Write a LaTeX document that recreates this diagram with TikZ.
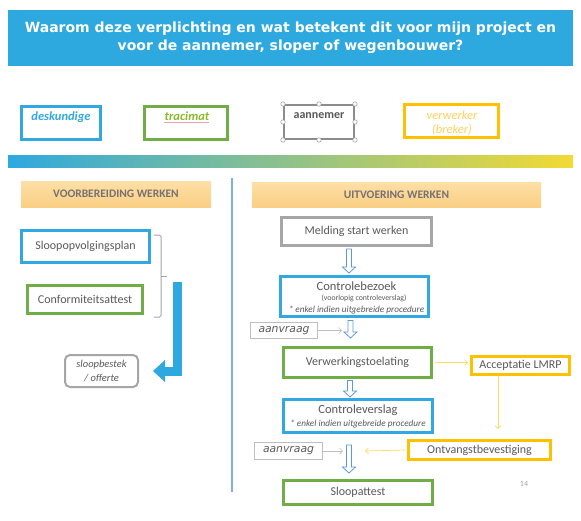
\documentclass[tikz,border=0pt]{standalone}
\usepackage{fontspec}
\setmainfont{Carlito}
\newfontfamily\titlefont{DejaVu Sans}
\usetikzlibrary{arrows.meta,calc}
\definecolor{tblue}{HTML}{2EA9DF}
\definecolor{bblue}{HTML}{32A8E2}
\definecolor{bgreen}{HTML}{70AD47}
\definecolor{tgreen}{HTML}{8DB92E}
\definecolor{bgray}{HTML}{A6A6A6}
\definecolor{dgray}{HTML}{8C8C8C}
\definecolor{lgray}{HTML}{BFBFBF}
\definecolor{borange}{HTML}{FFC000}
\definecolor{lorange}{HTML}{FFD15C}
\definecolor{yarrow}{HTML}{FFD966}
\definecolor{tgray}{HTML}{595959}
\definecolor{hdrtext}{HTML}{767171}
\definecolor{hdrtop}{HTML}{FDDFA6}
\definecolor{hdrbot}{HTML}{FACF84}
\definecolor{hblue}{HTML}{5B9BD5}
\definecolor{sepblue}{HTML}{7FAEE0}
\definecolor{gradgreen}{HTML}{8DBE2C}
\definecolor{gradyellow}{HTML}{F2DA34}
\definecolor{pinkline}{HTML}{F2A0A8}
\newcommand\hollowarrow[2]{\draw[hollow] let \p1=#1, \p2=#2 in
  (\x1-2.5pt,\y1) -- (\x1-2.5pt,\y2+6pt) -- (\x1-6.5pt,\y2+6pt) -- (\x1,\y2)
  -- (\x1+6.5pt,\y2+6pt) -- (\x1+2.5pt,\y2+6pt) -- (\x1+2.5pt,\y1) -- cycle;}
\begin{document}
\begin{tikzpicture}[x=1pt,y=-1pt,
  box/.style={draw, line width=3pt, inner sep=0pt, text=tgray, font=\fontsize{12}{14}\selectfont},
  legbox/.style={draw, line width=3pt, inner sep=0pt},
  header/.style={top color=hdrtop, bottom color=hdrbot, inner sep=0pt, text=hdrtext, font=\bfseries\fontsize{11.5}{13}\selectfont},
  reqbox/.style={draw=lgray, line width=1pt, inner sep=0pt, text=tgray, font=\titlefont\itshape\fontsize{10.8}{12}\selectfont},
  small/.style={inner sep=0pt, text=tgray},
  thinarr/.style={-{Straight Barb[length=3pt,width=6pt]}, line width=0.7pt},
  hollow/.style={draw=hblue, fill=white, line width=0.8pt},
  handle/.style={circle, draw=bgray, fill=white, line width=0.6pt, inner sep=0pt, minimum size=4.4pt}]
\useasboundingbox (0,0) rectangle (581,520);
\fill[white] (0,0) rectangle (581,520);
% title banner
\node[fill=tblue, minimum width=565pt, minimum height=56pt, inner sep=0pt, text=white, align=center,
  font=\titlefont\bfseries\fontsize{14}{18}\selectfont] (title) at (290.5,38)
  {Waarom deze verplichting en wat betekent dit voor mijn project en\\voor de aannemer, sloper of wegenbouwer?};
% legend
\node[legbox, draw=bblue, minimum width=79pt, minimum height=33pt] (desk) at (61,123) {};
\node[inner sep=0pt, text=bblue, font=\bfseries\itshape\fontsize{12.5}{14}\selectfont] (deskt) at (61,117) {deskundige};
\node[legbox, draw=bgreen, minimum width=83pt, minimum height=33pt] (trac) at (186,123) {};
\node[inner sep=0pt, text=tgreen, font=\bfseries\itshape\fontsize{12.5}{14}\selectfont] (tract) at (187,116.5) {tracimat};
\coordinate (ul1) at (164,122.5);
\coordinate (ul2) at (209,122.5);
\draw[pinkline, line width=0.8pt] (ul1) -- (ul2);
\node[legbox, draw=dgray, line width=2pt, minimum width=70pt, minimum height=34pt] (aann) at (319,122) {};
\node[inner sep=0pt, text=tgray, font=\bfseries\fontsize{12}{14}\selectfont] (aannt) at (319,116) {aannemer};
\foreach \a in {north west,north,north east,west,east,south west,south,south east}
  \node[handle] at (aann.\a) {};
\node[legbox, draw=borange, minimum width=94pt, minimum height=33pt] (verwl) at (451.5,121) {};
\node[inner sep=0pt, text=lorange, font=\itshape\fontsize{12.5}{14}\selectfont] (verwt1) at (452,115) {verwerker};
\node[inner sep=0pt, text=lorange, font=\itshape\fontsize{12.5}{14}\selectfont] (verwt2) at (452,130) {(breker)};
% gradient bar
\shade[left color=tblue, middle color=gradgreen, right color=gradyellow] (8,155) rectangle (573,167);
% left column
\node[header, minimum width=190pt, minimum height=26pt] (vh) at (116,194) {VOORBEREIDING WERKEN};
\node[box, draw=bblue, minimum width=128pt, minimum height=32pt] (sop) at (85.5,246.5) {Sloopopvolgingsplan};
\node[box, draw=bgreen, minimum width=115pt, minimum height=28pt] (conf) at (85,299.5) {Conformiteitsattest};
\draw[bgray, line width=1pt, rounded corners=1.5pt] (154,235) -- (161,235) -- (161,317) -- (154,317);
\coordinate (brk) at (161,276.5);
\coordinate (brkt) at (167,276.5);
\draw[bgray, line width=1pt] (brk) -- (brkt);
\node[draw=bgray, line width=2pt, rounded corners=5pt, minimum width=73pt, minimum height=32pt, inner sep=0pt,
  text=tgray, align=center, font=\itshape\fontsize{10.5}{14}\selectfont] (sloop) at (101.5,371) {sloopbestek\\/ offerte};
\coordinate (bigs) at (177.5,282);
\draw[tblue, line width=9pt, -{Triangle[length=12pt,width=22pt,line width=0pt]}] (bigs) |- ([xshift=14pt]sloop.east);
% separator
\coordinate (sep1) at (232,178);
\coordinate (sep2) at (232,492);
\draw[sepblue, line width=1.5pt] (sep1) -- (sep2);
% right column
\node[header, minimum width=289pt, minimum height=25pt] (vu) at (396.5,194.5) {UITVOERING WERKEN};
\node[box, draw=bgray, minimum width=150pt, minimum height=28pt] (meld) at (356.5,231.5) {Melding start werken};
\node[box, draw=bblue, minimum width=148pt, minimum height=40pt] (cb) at (354.5,296.5) {};
\node[small, font=\fontsize{12.5}{14}\selectfont] (cbt1) at (356.5,286.5) {Controlebezoek};
\node[small, font=\fontsize{7.8}{8}\selectfont] (cbt2) at (364,298.5) {(voorlopig controleverslag)};
\node[small, font=\itshape\fontsize{9.2}{10}\selectfont] (cbt3) at (356.5,310) {* enkel indien uitgebreide procedure};
\node[reqbox, minimum width=67pt, minimum height=16pt] (aan1) at (284,330.5) {aanvraag};
\node[box, draw=bgreen, minimum width=148pt, minimum height=30pt] (verw) at (357.5,362.5) {Verwerkingstoelating};
\node[box, draw=borange, minimum width=98pt, minimum height=18pt] (acc) at (520.5,365.5) {Acceptatie LMRP};
\node[box, draw=bblue, minimum width=149pt, minimum height=33pt] (cl) at (358,416) {};
\node[small, font=\fontsize{12.5}{14}\selectfont] (clt1) at (358,410) {Controleverslag};
\node[small, font=\itshape\fontsize{9.2}{10}\selectfont] (clt2) at (358,424) {* enkel indien uitgebreide procedure};
\node[reqbox, minimum width=68pt, minimum height=17pt] (aan2) at (288.5,451) {aanvraag};
\node[box, draw=borange, minimum width=142pt, minimum height=19pt] (ontv) at (479.5,450) {Ontvangstbevestiging};
\node[box, draw=bgreen, minimum width=149pt, minimum height=24pt] (sla) at (358,492.5) {Sloopattest};
\node[inner sep=0pt, text=bgray, font=\fontsize{8}{9}\selectfont] (pnum) at (524,484) {14};
% hollow arrows
\coordinate (h1s) at (349,249); \coordinate (h1e) at (349,273);
\coordinate (h2s) at (350.5,320.5); \coordinate (h2e) at (350.5,338);
\coordinate (h3s) at (350,380.5); \coordinate (h3e) at (350,397);
\coordinate (h4s) at (349,445); \coordinate (h4e) at (349,473);
\hollowarrow{(h1s)}{(h1e)}
\hollowarrow{(h2s)}{(h2e)}
\hollowarrow{(h3s)}{(h3e)}
\hollowarrow{(h4s)}{(h4e)}
% thin arrows
\coordinate (a1e) at (342,330.5);
\draw[thinarr, lgray] (aan1.east) -- (a1e);
\coordinate (a2e) at (343,451);
\draw[thinarr, lgray] (aan2.east) -- (a2e);
\draw[thinarr, yarrow] ([xshift=1.5pt]verw.east) -- ([xshift=-2pt]verw.east -| acc.west);
\coordinate (accs) at (498,376);
\coordinate (acce) at (498,429);
\draw[thinarr, yarrow] (accs) -- (acce);
\coordinate (ontve) at (365,451);
\draw[thinarr, yarrow] ([xshift=-2pt]ontv.west) -- (ontve);
\end{tikzpicture}
\end{document}
